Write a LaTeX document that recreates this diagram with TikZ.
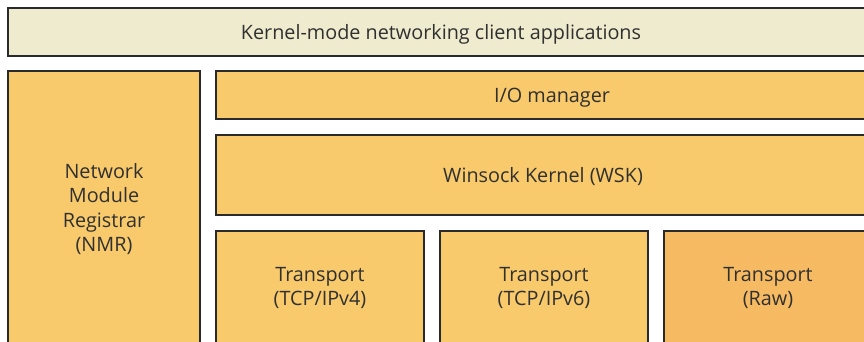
\documentclass[tikz,border=0pt]{standalone}
\usepackage{fontspec}
\setmainfont{Open Sans}
\usetikzlibrary{positioning}
\definecolor{boxline}{HTML}{2A2A2A}
\definecolor{labeltext}{HTML}{303030}
\definecolor{clientfill}{HTML}{EFEBCE}
\definecolor{layerfill}{HTML}{F9CA6B}
\definecolor{rawfill}{HTML}{F6BB62}
\tikzset{
  layer box/.style={rectangle,draw=boxline,line width=2.5pt,fill=layerfill,anchor=north west,
    inner sep=0pt,outer sep=0pt,align=center,text=labeltext,font=\fontsize{19.8}{24.5}\selectfont},
  client box/.style={layer box,fill=clientfill},
  raw box/.style={layer box,fill=rawfill},
  one line/.style={text depth=0pt},
}
\begin{document}
\begin{tikzpicture}[x=1pt,y=-1pt]
  \useasboundingbox (0,0) rectangle (864,342);
  \clip (0,0) rectangle (864,342);
  \node[client box,one line,minimum width=866pt,minimum height=48pt] (apps) at (8,8) {Kernel-mode networking client applications};
  \node[layer box,minimum width=192pt,minimum height=276pt] (nmr) at (8,71) {Network\\Module\\Registrar\\(NMR)};
  \node[layer box,one line,minimum width=672pt,minimum height=48pt] (iomgr) at (216,71) {I/O manager};
  \node[layer box,one line,minimum width=654pt,minimum height=80pt] (wsk) at (216,135) {Winsock Kernel (WSK)};
  \node[layer box,minimum width=208pt,minimum height=114pt] (tcp4) at (216,231) {Transport\\(TCP/IPv4)};
  \node[layer box,minimum width=208pt,minimum height=114pt] (tcp6) at (440,231) {Transport\\(TCP/IPv6)};
  \node[raw box,minimum width=208pt,minimum height=114pt] (raw) at (664,231) {Transport\\(Raw)};
\end{tikzpicture}
\end{document}
